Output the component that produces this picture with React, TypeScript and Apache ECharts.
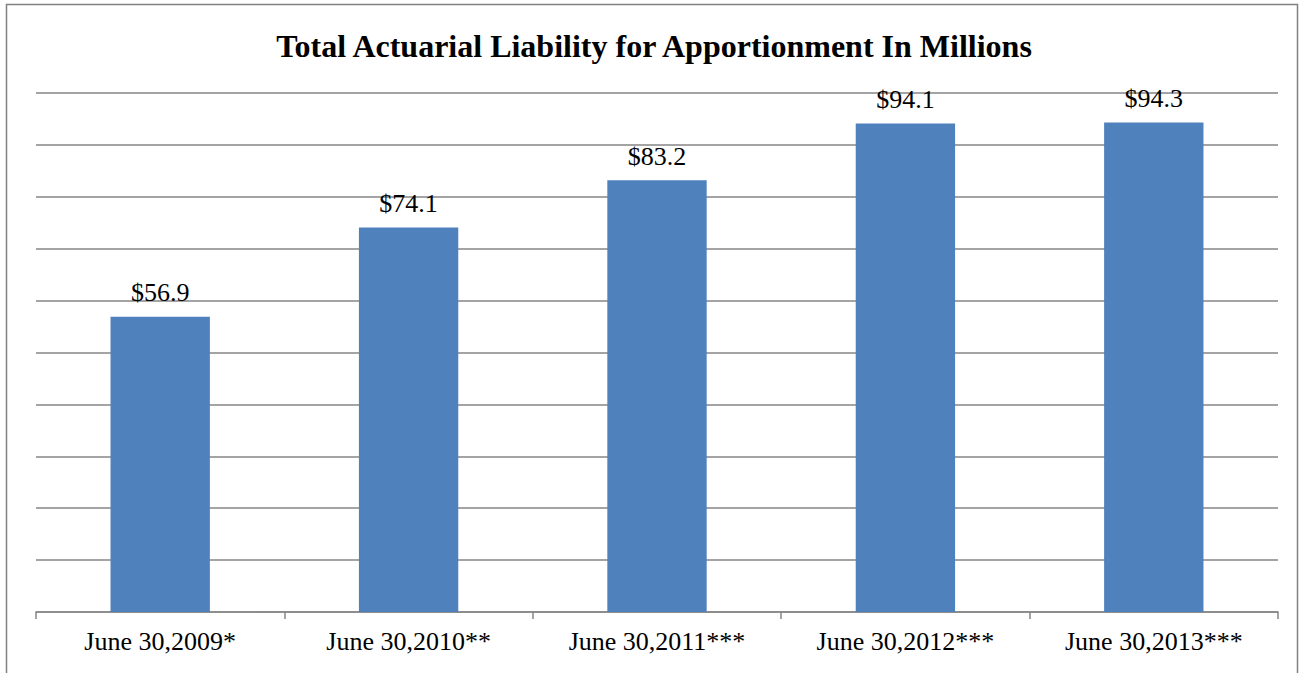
import React, { useEffect, useRef } from "react";
import * as echarts from "echarts";

const categories = ["June 30,2009*", "June 30,2010**", "June 30,2011***", "June 30,2012***", "June 30,2013***"];
const values = [56.9, 74.1, 83.2, 94.1, 94.3];
const titleText = "Total Actuarial Liability for Apportionment In Millions";

export default function App() {
  const ref = useRef<HTMLDivElement>(null);
  useEffect(() => {
    const chart = echarts.init(ref.current!, null, { renderer: "svg" });
    const font = "Liberation Serif";
    chart.setOption({
      animation: false,
      backgroundColor: "#ffffff",
      title: {
        text: titleText,
        left: "center",
        top: 25,
        textStyle: { fontFamily: font, fontSize: 32, fontWeight: "bold", color: "#000" },
      },
      graphic: [
        {
          type: "rect",
          shape: { x: 6.5, y: 4.5, width: 1291, height: 700 },
          style: { fill: "none", stroke: "#808080", lineWidth: 1.5 },
          silent: true,
        },
      ],
      grid: { left: 36, right: 30, top: 93, bottom: 61 },
      xAxis: {
        type: "category",
        data: categories,
        axisLine: { lineStyle: { color: "#868686", width: 1.5 } },
        axisTick: { show: true, length: 7, lineStyle: { color: "#868686", width: 1.5 } },
        axisLabel: { fontFamily: font, fontSize: 26, color: "#000", margin: 16 },
      },
      yAxis: {
        type: "value",
        min: 0,
        max: 100,
        interval: 10,
        axisLabel: { show: false },
        axisLine: { show: false },
        axisTick: { show: false },
        splitLine: { lineStyle: { color: "#868686", width: 1.5 } },
      },
      series: [
        {
          type: "bar",
          data: values,
          barWidth: "40%",
          itemStyle: { color: "#4F81BD" },
          label: {
            show: true,
            position: "top",
            distance: 11,
            formatter: (p: any) => "$" + p.value.toFixed(1),
            fontFamily: font,
            fontSize: 26,
            color: "#000",
          },
        },
      ],
    });
    return () => chart.dispose();
  }, []);
  return <div ref={ref} style={{ position: "fixed", left: 0, top: 0, width: 1308, height: 673 }} />;
}
